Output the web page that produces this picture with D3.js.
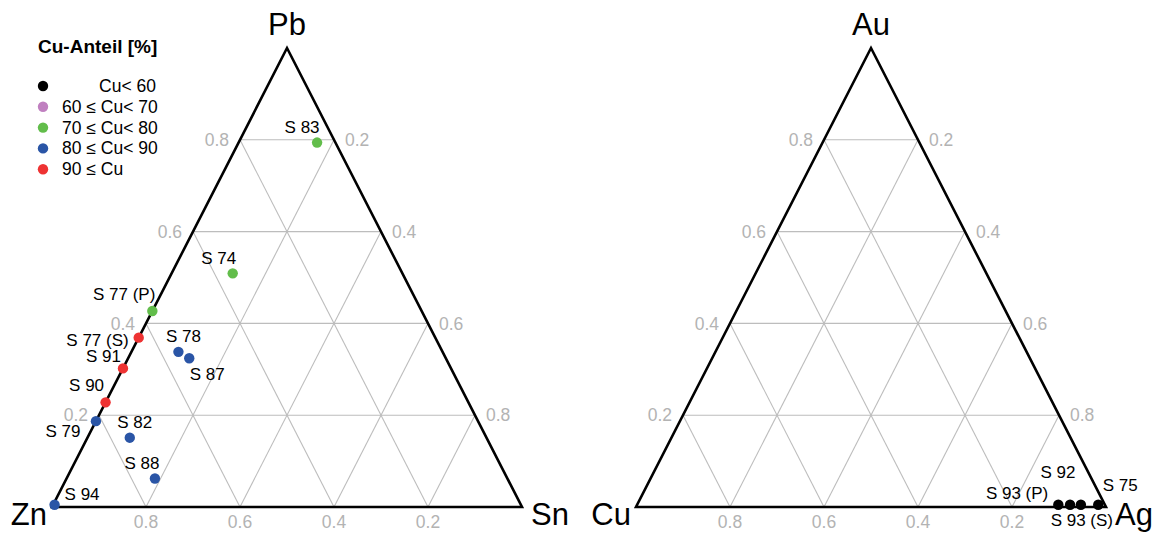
<!DOCTYPE html>
<html>
<head>
<meta charset="utf-8">
<script src="https://cdn.jsdelivr.net/npm/d3@7"></script>
<style>
  html, body { margin: 0; padding: 0; background: #fff; }
  svg { display: block; font-family: "Liberation Sans", Arial, Helvetica, sans-serif; }
</style>
</head>
<body>
<svg id="chart" width="1157" height="534"></svg>
<script>
// Cu share classes (legend order)
const classLabels = ["Cu < 60", "60 \u2264 Cu < 70", "70 \u2264 Cu < 80", "80 \u2264 Cu < 90", "90 \u2264 Cu"];
const classColors = ["#000000", "#c080c0", "#62bd4b", "#2a55a6", "#ee3333"];

// Grid / tick values shared by both diagrams
const tickValues = [0.2, 0.4, 0.6, 0.8];

// Zn–Sn–Pb diagram: sample names, fractions and Cu class index
const pbNames = ["S 83", "S 74", "S 77 (P)", "S 77 (S)", "S 91", "S 90", "S 79", "S 94", "S 78", "S 87", "S 82", "S 88"];
const pbZn    = [0.039, 0.361, 0.573, 0.631, 0.698, 0.772, 0.813, 0.992, 0.562, 0.546, 0.759, 0.750];
const pbSn    = [0.167, 0.130, 0.000, 0.000, 0.000, 0.000, 0.000, 0.003, 0.100, 0.130, 0.090, 0.188];
const pbPb    = [0.794, 0.509, 0.427, 0.369, 0.302, 0.228, 0.187, 0.005, 0.338, 0.324, 0.151, 0.062];
const pbClass = [2, 2, 2, 4, 4, 4, 3, 3, 3, 3, 3, 3];

// Cu–Ag–Au diagram
const auNames = ["S 93 (P)", "S 92", "S 93 (S)", "S 75"];
const auCu    = [0.099, 0.074, 0.051, 0.014];
const auAg    = [0.896, 0.921, 0.944, 0.981];
const auAu    = [0.005, 0.005, 0.005, 0.005];
const auClass = [0, 0, 0, 0];

// Label placement relative to each point: [dx, dy, anchor]
const labelPlacement = {
  "S 83": [-15, -10, "middle"],
  "S 74": [-14, -9, "middle"],
  "S 77 (P)": [3, -11, "end"],
  "S 77 (S)": [-10, 8, "end"],
  "S 91": [-2, -6, "end"],
  "S 90": [-19, -11, "middle"],
  "S 79": [-33, 16, "middle"],
  "S 94": [10, -5, "start"],
  "S 78": [5, -10, "middle"],
  "S 87": [18, 22, "middle"],
  "S 82": [5, -10, "middle"],
  "S 88": [-13, -10, "middle"],
  "S 93 (P)": [-10, -6, "end"],
  "S 92": [-12, -27, "middle"],
  "S 93 (S)": [1, 21, "middle"],
  "S 75": [22, -14, "middle"]
};

const svg = d3.select("#chart");

function drawTernary(opts) {
  // a = bottom-left component, b = bottom-right, c = apex
  const x = d3.scaleLinear().domain([0, 1]).range([opts.left, opts.right]);
  const y = d3.scaleLinear().domain([0, 1]).range([opts.bottom, opts.top]);
  const px = (a, b, c) => x(b + c / 2);
  const py = (a, b, c) => y(c);

  const g = svg.append("g");

  // grid lines
  const grid = [];
  tickValues.forEach(v => {
    grid.push([[1 - v, 0, v], [0, 1 - v, v]]);   // constant apex share
    grid.push([[1 - v, v, 0], [0, v, 1 - v]]);   // constant right share
    grid.push([[v, 1 - v, 0], [v, 0, 1 - v]]);   // constant left share
  });
  g.append("g").selectAll("line").data(grid).join("line")
    .attr("x1", d => px(...d[0])).attr("y1", d => py(...d[0]))
    .attr("x2", d => px(...d[1])).attr("y2", d => py(...d[1]))
    .attr("stroke", "#bdbdbd").attr("stroke-width", 1.1);

  // outline
  const corners = [[1, 0, 0], [0, 1, 0], [0, 0, 1]];
  g.append("path")
    .attr("d", d3.line()(corners.map(c => [px(...c), py(...c)])) + "Z")
    .attr("fill", "none").attr("stroke", "#000").attr("stroke-width", 2.6)
    .attr("stroke-linejoin", "miter");

  // tick labels
  const tickStyle = sel => sel.attr("fill", "#b3b3b3").attr("font-size", 17.5);
  g.append("g").selectAll("text").data(tickValues).join("text")
    .attr("x", v => px(1 - v, 0, v) - 11).attr("y", v => py(1 - v, 0, v))
    .attr("dy", "0.35em").attr("text-anchor", "end")
    .text(v => v.toFixed(1)).call(tickStyle);
  g.append("g").selectAll("text").data(tickValues).join("text")
    .attr("x", v => px(0, 1 - v, v) + 11).attr("y", v => py(0, 1 - v, v))
    .attr("dy", "0.35em").attr("text-anchor", "start")
    .text(v => (1 - v).toFixed(1)).call(tickStyle);
  g.append("g").selectAll("text").data(tickValues).join("text")
    .attr("x", v => px(v, 1 - v, 0)).attr("y", v => py(v, 1 - v, 0) + 21)
    .attr("text-anchor", "middle")
    .text(v => v.toFixed(1)).call(tickStyle);

  // vertex labels
  const vStyle = sel => sel.attr("font-size", 31).attr("fill", "#000");
  g.append("text").attr("x", px(1, 0, 0) - 5).attr("y", py(1, 0, 0) + 18)
    .attr("text-anchor", "end").text(opts.names[0]).call(vStyle);
  g.append("text").attr("x", px(0, 1, 0) + 9).attr("y", py(0, 1, 0) + 18)
    .attr("text-anchor", "start").text(opts.names[1]).call(vStyle);
  g.append("text").attr("x", px(0, 0, 1)).attr("y", py(0, 0, 1) - 13)
    .attr("text-anchor", "middle").text(opts.names[2]).call(vStyle);

  // points
  const pts = opts.labels.map((n, i) => ({
    name: n, a: opts.a[i], b: opts.b[i], c: opts.c[i], cls: opts.cls[i]
  }));
  g.append("g").selectAll("circle").data(pts).join("circle")
    .attr("cx", d => px(d.a, d.b, d.c)).attr("cy", d => py(d.a, d.b, d.c))
    .attr("r", 5.2).attr("fill", d => classColors[d.cls]);

  g.append("g").selectAll("text").data(pts).join("text")
    .attr("x", d => px(d.a, d.b, d.c) + labelPlacement[d.name][0])
    .attr("y", d => py(d.a, d.b, d.c) + labelPlacement[d.name][1])
    .attr("text-anchor", d => labelPlacement[d.name][2])
    .attr("font-size", 17).attr("fill", "#000")
    .text(d => d.name);
}

drawTernary({
  left: 52, right: 522, bottom: 507, top: 48,
  names: ["Zn", "Sn", "Pb"],
  labels: pbNames, a: pbZn, b: pbSn, c: pbPb, cls: pbClass
});

drawTernary({
  left: 636, right: 1106, bottom: 507, top: 48,
  names: ["Cu", "Ag", "Au"],
  labels: auNames, a: auCu, b: auAg, c: auAu, cls: auClass
});

// legend
const legend = svg.append("g");
legend.append("text").attr("x", 38).attr("y", 53)
  .attr("font-size", 19).attr("font-weight", "bold").text("Cu-Anteil [%]");
const rowY = d3.scaleLinear().domain([0, 1]).range([86, 106.8]);
const rows = legend.selectAll("g.row").data(classLabels).join("g").attr("class", "row");
rows.append("circle").attr("cx", 43).attr("cy", (d, i) => rowY(i))
  .attr("r", 5.2).attr("fill", (d, i) => classColors[i]);
rows.append("text")
  .attr("x", (d, i) => i === 0 ? 156 : 62)
  .attr("y", (d, i) => rowY(i) + 6)
  .attr("text-anchor", (d, i) => i === 0 ? "end" : "start")
  .attr("font-size", 17.5).attr("fill", "#000")
  .text(d => d.replace(/Cu </, "Cu< "));
</script>
</body>
</html>
